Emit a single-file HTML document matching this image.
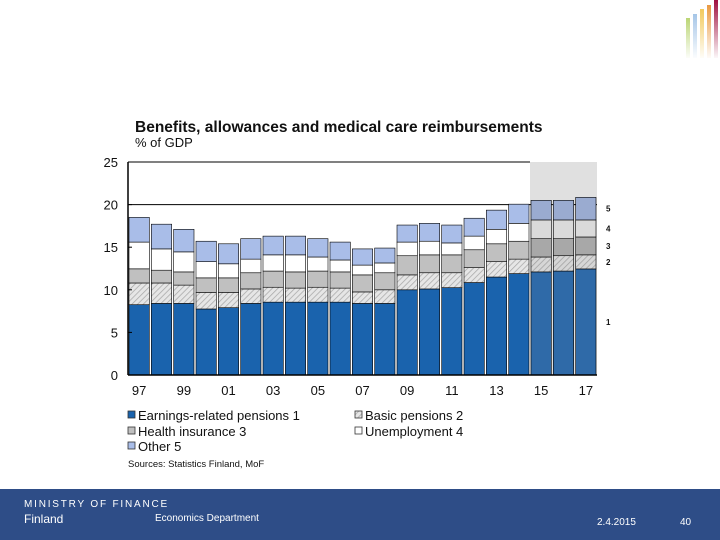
<!DOCTYPE html>
<html><head><meta charset="utf-8"><style>
body{margin:0;width:720px;height:540px;background:#fff;position:relative;overflow:hidden;font-family:"Liberation Sans",sans-serif}
svg{position:absolute;left:0;top:0}
</style></head><body>
<svg width="720" height="540">
<defs>
<pattern id="hatch" width="4" height="4" patternUnits="userSpaceOnUse" patternTransform="rotate(45)">
<rect width="4" height="4" fill="#e6e6e6"/><line x1="0" y1="0" x2="0" y2="4" stroke="#a8a8a8" stroke-width="1.5"/></pattern>
<pattern id="hatchF" width="4" height="4" patternUnits="userSpaceOnUse" patternTransform="rotate(45)">
<rect width="4" height="4" fill="#d6d6d6"/><line x1="0" y1="0" x2="0" y2="4" stroke="#a0a0a0" stroke-width="1.5"/></pattern>
<linearGradient id="fade" x1="0" y1="0" x2="0" y2="1"><stop offset="0" stop-color="#fff" stop-opacity="0"/><stop offset="1" stop-color="#fff" stop-opacity="1"/></linearGradient>
</defs>
<g id="logo">
<rect x="686" y="18" width="4" height="40" fill="#9ec43a"/>
<rect x="693" y="14" width="4" height="44" fill="#8ab4e0"/>
<rect x="700" y="9" width="4" height="49" fill="#f0c040"/>
<rect x="707" y="5" width="4" height="53" fill="#e89030"/>
<rect x="714" y="0" width="4" height="58" fill="#a01040"/>
<rect x="684" y="0" width="36" height="60" fill="url(#fade)"/>
</g>
<text x="135" y="132" font-size="15.5" font-weight="bold" fill="#111">Benefits, allowances and medical care reimbursements</text>
<text x="135" y="147" font-size="13" fill="#111">% of GDP</text>
<g id="plot"></g>
<g id="legend" font-size="13" fill="#111">
<rect x="128" y="411" width="7" height="7" fill="#1a63ad" stroke="#333" stroke-width="0.8"/>
<text x="138" y="420">Earnings-related pensions 1</text>
<rect x="355" y="411" width="7" height="7" fill="url(#hatch)" stroke="#333" stroke-width="0.8"/>
<text x="365" y="420">Basic pensions 2</text>
<rect x="128" y="427" width="7" height="7" fill="#c0c0c0" stroke="#333" stroke-width="0.8"/>
<text x="138" y="436">Health insurance 3</text>
<rect x="355" y="427" width="7" height="7" fill="#fff" stroke="#333" stroke-width="0.8"/>
<text x="365" y="436">Unemployment 4</text>
<rect x="128" y="442" width="7" height="7" fill="#a9bde8" stroke="#333" stroke-width="0.8"/>
<text x="138" y="451">Other 5</text>
<text x="128" y="467" font-size="9.5">Sources: Statistics Finland, MoF</text>
</g>
<rect x="0" y="489" width="720" height="51" fill="#2e4d87"/>
<text x="24" y="507" font-size="10" fill="#fff" letter-spacing="1.8">MINISTRY OF FINANCE</text>
<text x="24" y="523" font-size="12" fill="#fff">Finland</text>
<text x="155" y="521" font-size="10" fill="#fff">Economics Department</text>
<text x="597" y="525" font-size="10" fill="#fff">2.4.2015</text>
<text x="680" y="525" font-size="10" fill="#fff">40</text>
</svg>
<script>
const years=['97','98','99','00','01','02','03','04','05','06','07','08','09','10','11','12','13','14','15','16','17'];
const xLabels=['97','99','01','03','05','07','09','11','13','15','17'];
const yTicks=[0,5,10,15,20,25];
const earnings=[8.25,8.4,8.4,7.75,7.9,8.4,8.55,8.55,8.55,8.55,8.4,8.4,10.0,10.1,10.25,10.85,11.5,11.9,12.1,12.2,12.45];
const basic=[2.55,2.4,2.15,1.95,1.8,1.7,1.75,1.65,1.75,1.65,1.35,1.6,1.75,1.9,1.75,1.75,1.8,1.7,1.75,1.8,1.65];
const health=[1.66,1.5,1.55,1.7,1.7,1.9,1.9,1.9,1.9,1.9,2.0,2.0,2.25,2.1,2.1,2.1,2.1,2.1,2.15,2.0,2.1];
const unemployment=[3.14,2.5,2.35,1.9,1.65,1.6,1.9,2.0,1.65,1.4,1.15,1.15,1.6,1.6,1.4,1.6,1.7,2.1,2.2,2.2,2.0];
const other=[2.9,2.9,2.65,2.4,2.35,2.4,2.2,2.2,2.15,2.1,1.9,1.75,2.0,2.1,2.1,2.1,2.25,2.25,2.3,2.3,2.65];
const forecastFrom=18;
const NS='http://www.w3.org/2000/svg';
const X0=128,X1=597,Y0=375,Y25=162;
const slot=(X1-X0)/years.length;
const y=v=>Y0-(v/25)*(Y0-Y25);
const x=i=>X0+i*slot;
const g=document.getElementById('plot');
function mk(t,a){const e=document.createElementNS(NS,t);for(const k in a)e.setAttribute(k,a[k]);g.appendChild(e);return e;}
let e=mk('rect',{x:x(forecastFrom),y:Y25,width:X1-x(forecastFrom),height:Y0-Y25,fill:'#e0e0e0'});


e=mk('line',{x1:X0,y1:y(25),x2:x(forecastFrom),y2:y(25),stroke:'#000','stroke-width':1});


e=mk('line',{x1:X0,y1:y(20),x2:X1,y2:y(20),stroke:'#000','stroke-width':1});


const series=[earnings,basic,health,unemployment,other];
const names=['earnings','basic','health','unemployment','other'];
const fills=['#1a63ad','url(#hatch)','#c0c0c0','#ffffff','#a9bde8'];
const fillsF=['#2f6aa8','url(#hatchF)','#a8a8a8','#dadada','#9aabd0'];
years.forEach((yr,i)=>{let cum=0;series.forEach((s,k)=>{const v=s[i];const r=mk('rect',{x:x(i)+1,y:y(cum+v),width:slot-2,height:y(cum)-y(cum+v),fill:(i>=forecastFrom?fillsF:fills)[k],stroke:'#000','stroke-width':0.6});


cum+=v;});});
e=mk('line',{x1:X0,y1:Y25,x2:X0,y2:Y0,stroke:'#000','stroke-width':1.5});


e=mk('line',{x1:X0,y1:Y0,x2:X1,y2:Y0,stroke:'#000','stroke-width':1.5});


yTicks.forEach(t=>{const l=mk('text',{x:118,y:y(t)+5,'font-size':13,'text-anchor':'end',fill:'#111'});l.textContent=t;


const tk=mk('line',{x1:X0,y1:y(t),x2:X0+4,y2:y(t),stroke:'#000'});

});
xLabels.forEach(lb=>{const i=years.indexOf(lb);const l=mk('text',{x:x(i)+slot/2,y:395,'font-size':13,'text-anchor':'middle',fill:'#111'});l.textContent=lb;

});
const last=years.length-1;let cum=0;
series.forEach((s,k)=>{const v=s[last];const mid=cum+v/2;cum+=v;const l=mk('text',{x:606,y:y(mid)+3,'font-size':8,'font-weight':'bold',fill:'#111'});l.textContent=(k+1);

});
</script>
</body></html>
